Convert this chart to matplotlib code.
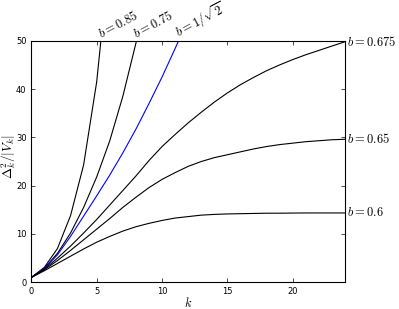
import numpy as np
import matplotlib
matplotlib.use('Agg')
import matplotlib.pyplot as plt

plt.rcParams['mathtext.fontset'] = 'cm'

k_085 = [0, 1, 2, 3, 4, 5, 6]
v_085 = [1, 3.1, 7.0, 13.8, 24.3, 41.5, 68.0]

k_075 = [0, 1, 2, 3, 4, 5, 6, 7, 8, 9]
v_075 = [1, 2.9, 6.0, 10.2, 15.5, 21.8, 29.3, 38.5, 49.5, 62.0]

k_crit = [0, 1, 2, 3, 4, 5, 6, 7, 8, 9, 10, 11, 12]
v_crit = [1, 2.8, 5.7, 9.5, 13.7, 17.9, 22.2, 26.8, 31.7, 37.0, 42.5, 48.4, 54.5]

k_all = list(range(25))
v_0675 = [1, 2.7, 5.0, 7.5, 10.2, 13.0, 16.0, 19.0, 22.0, 25.2, 28.1, 30.6, 33.0,
          35.2, 37.3, 39.2, 40.9, 42.4, 43.8, 45.0, 46.1, 47.1, 48.0, 48.9, 49.8]
v_065 = [1, 2.6, 4.5, 6.6, 8.8, 11.0, 13.2, 15.5, 17.6, 19.6, 21.3, 22.7, 24.0,
         25.0, 25.8, 26.4, 27.0, 27.6, 28.1, 28.5, 28.8, 29.1, 29.3, 29.5, 29.6]
v_06 = [1, 2.4, 3.9, 5.4, 6.9, 8.3, 9.5, 10.6, 11.5, 12.2, 12.8, 13.3, 13.6,
        13.9, 14.05, 14.15, 14.2, 14.25, 14.3, 14.3, 14.33, 14.35, 14.35, 14.35, 14.35]

top_labels = [r'$b=0.85$', r'$b=0.75$', r'$b=1/\sqrt{2}$']
right_labels = [r'$b=0.675$', r'$b=0.65$', r'$b=0.6$']

fig = plt.figure(figsize=(3.99, 3.09), dpi=100)
ax = fig.add_axes([0.0785, 0.0864, 0.7865, 0.7819])

ax.plot(k_085, v_085, 'k', lw=0.8)
ax.plot(k_075, v_075, 'k', lw=0.8)
ax.plot(k_crit, v_crit, 'b', lw=0.8)
ax.plot(k_all, v_0675, 'k', lw=0.8)
ax.plot(k_all, v_065, 'k', lw=0.8)
ax.plot(k_all, v_06, 'k', lw=0.8)

ax.set_xlim(0, 24)
ax.set_ylim(0, 50)

# labels at the top where each steep curve leaves the box
for kk, vv, lab in zip([k_085, k_075, k_crit], [v_085, v_075, v_crit], top_labels):
    x50 = np.interp(50, vv, kk)
    ax.text(x50, 50.6, lab, rotation=28, rotation_mode='anchor',
            ha='left', va='baseline', fontsize=9)

# labels on the right at the last value of each flat curve
for vv, lab in zip([v_0675, v_065, v_06], right_labels):
    ax.text(24.15, vv[-1], lab, ha='left', va='center', fontsize=9)

ax.set_xticks([0, 5, 10, 15, 20])
ax.set_yticks([0, 10, 20, 30, 40, 50])
ax.tick_params(direction='in', top=True, right=True, labelsize=6, length=3, width=0.5)
for s in ax.spines.values():
    s.set_linewidth(0.8)

ax.set_xlabel(r'$k$', fontsize=9, labelpad=0)
ax.set_ylabel(r'$\Delta_k^2/|V_k|$', fontsize=9.5, va='center')
ax.yaxis.set_label_coords(-0.073, 0.52)

fig.savefig('out.png', dpi=100)
